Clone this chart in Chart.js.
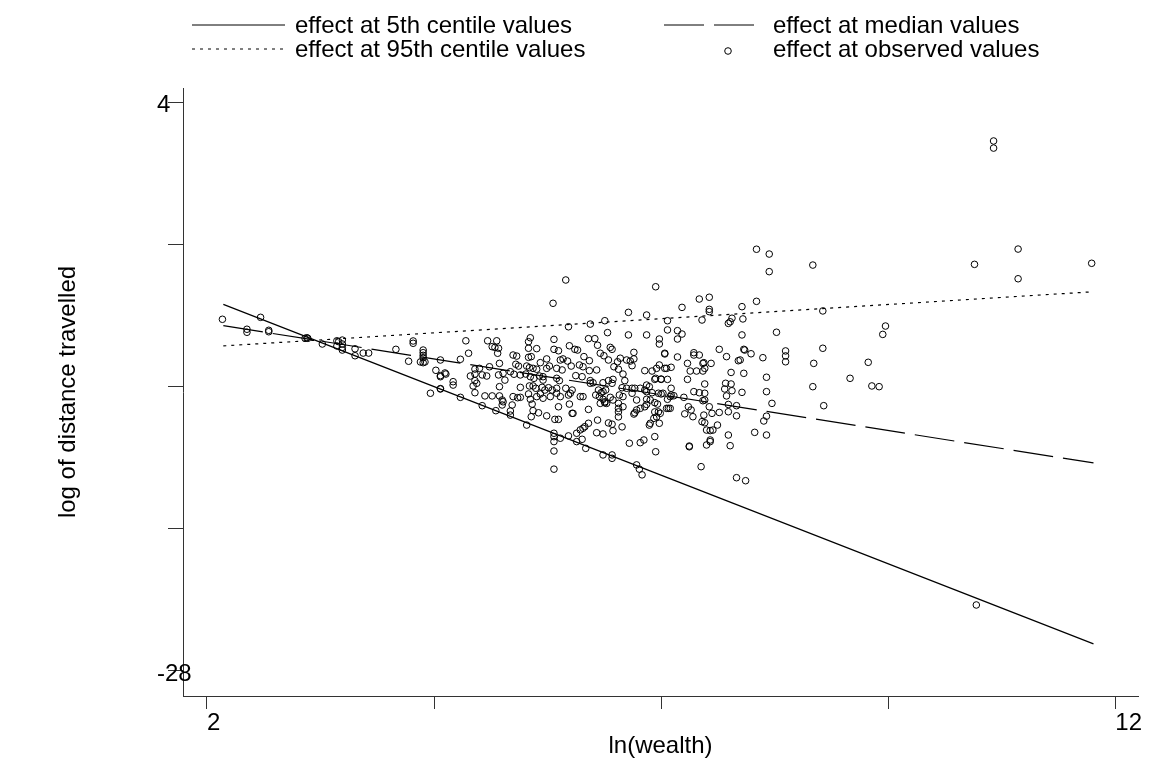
<!DOCTYPE html>
<html lang="en">

<head>
	<meta charset="UTF-8">
	<title>log of distance travelled vs ln(wealth)</title>
	<script src="https://cdn.jsdelivr.net/npm/chart.js"></script>
	<style>
		body { margin: 0; background: #fff; }
		#wrap { width: 1154px; height: 769px; position: relative; }
	</style>
</head>

<body>
	<div id="wrap"><canvas id="ctx"></canvas></div>

	<script>
		// series names
		const seriesNames = [
			'effect at 5th centile values',
			'effect at median values',
			'effect at 95th centile values',
			'effect at observed values'
		];

		// axis ticks (only the end ticks carry a label)
		const xTickValues = [2, 4.5, 7, 9.5, 12];
		const xTickLabels = ['2', '', '', '', '12'];
		const yTickValues = [-28, -20, -12, -4, 4];
		const yTickLabels = ['-28', '', '', '', '4'];

		// fitted lines, read at both ends
		const lineX = [2.18, 11.76];
		const centile5Y = [-7.38, -26.48];
		const medianY = [-8.58, -16.30];
		const centile95Y = [-9.72, -6.67];

		// observed values [ln(wealth), log distance]
		const observed = [
			[2.17, -8.22], [2.59, -8.11], [2.44, -8.78], [2.44, -8.95], [2.68, -8.84], [2.68, -8.92],
			[3.08, -9.29], [3.10, -9.26], [3.11, -9.29], [3.27, -9.61], [3.43, -9.43], [3.43, -9.72],
			[3.45, -9.48], [3.49, -9.39], [3.49, -9.61], [3.49, -9.80], [3.49, -9.95], [3.63, -9.88],
			[3.63, -10.27], [3.72, -10.12], [3.78, -10.12], [4.08, -9.91], [4.27, -9.44], [4.27, -9.57],
			[4.22, -10.58], [4.38, -9.95], [4.38, -10.10], [4.38, -10.25], [4.38, -10.38], [4.35, -10.62],
			[4.38, -10.66], [4.40, -10.62], [4.52, -11.09], [4.57, -11.39], [4.62, -11.24], [4.57, -12.12],
			[4.46, -12.38],
			[5.95, -6.01], [5.81, -7.32], [6.94, -6.39], [6.64, -7.83], [6.84, -7.98], [7.07, -8.30],
			[5.98, -8.64], [6.22, -8.49], [6.38, -8.30], [6.41, -8.97], [6.64, -9.10], [6.84, -9.10],
			[7.07, -8.82], [4.85, -9.43], [5.09, -9.43], [5.19, -9.43], [5.56, -9.26], [5.54, -9.48],
			[5.82, -9.35], [6.20, -9.31], [6.27, -9.31], [6.98, -9.33], [6.98, -9.61], [5.14, -9.76],
			[5.17, -9.80], [5.21, -9.85], [5.54, -9.85], [5.63, -9.87], [5.82, -9.91], [5.87, -9.99],
			[5.99, -9.71], [6.05, -9.91], [6.08, -9.95], [6.30, -9.68], [6.44, -9.80], [6.46, -9.91],
			[6.70, -10.08], [4.88, -10.13], [5.20, -10.13], [5.37, -10.23], [5.41, -10.29], [5.54, -10.36],
			[5.57, -10.32], [5.74, -10.45], [5.89, -10.51], [5.92, -10.45], [5.97, -10.57], [6.15, -10.32],
			[6.21, -10.55], [6.33, -10.13], [6.37, -10.27], [6.42, -10.51], [6.52, -10.61], [6.55, -10.41],
			[6.62, -10.51], [6.66, -10.57], [6.70, -10.45], [6.68, -10.83], [7.04, -10.17], [4.79, -10.47],
			[4.57, -10.51], [5.67, -10.66], [5.22, -10.70], [5.11, -10.89], [4.95, -11.02], [5.00, -10.98],
			[5.40, -10.75], [5.43, -10.85], [5.52, -10.85], [5.55, -10.94], [5.59, -10.98], [5.63, -11.03],
			[5.74, -10.98], [5.77, -10.85], [5.85, -10.98], [5.91, -11.07], [6.01, -10.85], [6.10, -10.79],
			[6.14, -10.89], [6.21, -11.11], [6.29, -11.07], [6.48, -10.89], [6.53, -11.03], [6.58, -11.30],
			[6.82, -11.11], [6.90, -11.13], [6.95, -10.98], [7.06, -10.98], [4.63, -11.30], [4.57, -11.45],
			[4.90, -11.41], [4.95, -11.30], [5.03, -11.35], [5.08, -11.41], [5.21, -11.35], [5.26, -11.26],
			[5.34, -11.17], [5.38, -11.31], [5.45, -11.35], [5.51, -11.30], [5.56, -11.45], [5.60, -11.54],
			[5.66, -11.41], [5.70, -11.45], [5.70, -11.64], [5.85, -11.54], [5.88, -11.67], [6.06, -11.39],
			[6.13, -11.45], [6.22, -11.67], [6.36, -11.79], [6.42, -11.67], [6.47, -11.60], [6.46, -11.82],
			[6.60, -11.67], [6.68, -12.10], [6.84, -11.92], [6.87, -12.01], [6.93, -11.60], [7.00, -11.60],
			[4.71, -11.73], [4.71, -11.92], [4.95, -11.67], [4.97, -11.82], [4.93, -11.97], [5.28, -11.64],
			[5.22, -12.01], [5.45, -12.05], [5.55, -11.97], [5.59, -11.97], [5.62, -12.10], [5.69, -12.05],
			[5.72, -12.20], [5.76, -12.07], [5.80, -12.20], [5.85, -12.10], [5.95, -12.10], [6.02, -12.20],
			[6.22, -11.82], [6.25, -11.79], [6.31, -12.20], [6.34, -12.35], [6.36, -12.29], [6.39, -12.20],
			[6.57, -12.07], [6.62, -12.10], [6.71, -12.10], [6.77, -12.10], [6.82, -12.20], [6.84, -12.29],
			[6.97, -12.38], [7.02, -12.38], [4.57, -12.14], [4.95, -12.35], [5.06, -12.53], [5.14, -12.53],
			[5.22, -12.53], [5.25, -12.76], [5.25, -13.04], [5.37, -12.57], [5.42, -12.63], [5.45, -12.61],
			[5.54, -12.42], [5.56, -12.72], [5.63, -12.57], [5.67, -12.42], [5.70, -12.66], [5.78, -12.57],
			[5.85, -12.38], [5.89, -12.57], [5.98, -12.48], [6.00, -12.38], [6.11, -12.57], [6.14, -12.57],
			[6.28, -12.48], [6.32, -12.57], [6.36, -12.72], [6.38, -12.86], [6.44, -12.61], [6.47, -12.76],
			[6.54, -12.48], [6.58, -12.57], [6.68, -12.38], [6.73, -12.76], [6.84, -12.72], [7.10, -12.57],
			[7.08, -13.23], [4.79, -12.61], [5.03, -13.08], [5.26, -12.86], [5.36, -13.04], [5.58, -12.99],
			[5.59, -13.36], [5.87, -13.14], [5.99, -12.99], [6.02, -13.51], [6.20, -13.29], [6.33, -12.95],
			[6.38, -12.92], [6.40, -12.95], [6.53, -12.95], [6.53, -13.23], [6.58, -13.14], [6.73, -13.32],
			[6.77, -13.23], [6.82, -13.14], [6.84, -13.01], [6.93, -13.43], [6.97, -13.43], [6.99, -13.51],
			[5.18, -13.36], [5.34, -13.38], [5.34, -13.61], [5.57, -13.70], [5.65, -13.48], [5.74, -13.65],
			[5.83, -13.85], [5.87, -13.85], [6.03, -13.51], [6.30, -13.89], [6.42, -14.05], [6.46, -14.12],
			[6.57, -14.27], [6.53, -13.43], [6.53, -13.71], [6.70, -13.55], [6.71, -13.48], [6.95, -13.71],
			[6.87, -14.17], [6.98, -14.07], [5.52, -14.17], [6.20, -14.07], [6.16, -14.26], [5.82, -14.63],
			[5.82, -15.10], [5.82, -14.82], [5.89, -14.91], [5.98, -14.78], [6.07, -14.63], [6.11, -14.44],
			[6.14, -14.35], [6.07, -15.10], [6.13, -14.97], [6.29, -14.60], [6.36, -14.67], [6.47, -14.49],
			[6.93, -14.82], [6.65, -15.19], [6.77, -15.16], [6.81, -15.01], [6.17, -15.48], [5.82, -15.63],
			[6.36, -15.85], [6.46, -15.85], [6.46, -16.04], [6.94, -15.67], [6.73, -16.41], [6.76, -16.65],
			[6.79, -16.97], [5.82, -16.65],
			[8.05, -4.28], [8.19, -4.55], [8.19, -5.54], [8.67, -5.17], [7.42, -7.08], [7.53, -6.98],
			[7.23, -7.55], [8.05, -7.21], [7.89, -7.51], [7.53, -7.66], [7.53, -7.79], [8.78, -7.75],
			[7.45, -8.26], [7.78, -8.16], [7.76, -8.36], [7.74, -8.45], [7.90, -8.20], [7.18, -8.86],
			[7.23, -9.05], [7.18, -9.33], [7.89, -9.10], [8.27, -8.95], [7.04, -10.13], [7.18, -10.34],
			[7.36, -10.10], [7.36, -10.23], [7.42, -10.23], [7.64, -9.91], [7.72, -10.32], [7.91, -9.91],
			[7.92, -9.95], [7.99, -10.16], [8.12, -10.38], [8.37, -10.00], [8.37, -10.28], [8.37, -10.61],
			[8.78, -9.85], [9.28, -10.64], [7.29, -10.70], [7.46, -10.70], [7.47, -10.66], [7.55, -10.70],
			[7.87, -10.51], [7.85, -10.55], [8.68, -10.70], [6.98, -10.79], [7.04, -10.98], [7.11, -10.92],
			[7.32, -11.13], [7.39, -11.13], [7.46, -11.13], [7.48, -10.98], [7.77, -11.21], [7.91, -11.26],
			[6.94, -11.54], [7.00, -11.58], [7.07, -11.60], [7.29, -11.60], [8.16, -11.48], [9.08, -11.54],
			[7.48, -11.86], [7.71, -11.82], [7.77, -11.86], [7.70, -12.14], [7.78, -12.24], [7.89, -12.33],
			[8.16, -12.29], [8.67, -12.01], [9.32, -11.97], [9.40, -12.01], [7.11, -12.10], [6.90, -12.35],
			[7.00, -12.42], [7.11, -12.48], [7.14, -12.52], [7.25, -12.61], [7.36, -12.29], [7.42, -12.35],
			[7.48, -12.38], [7.72, -12.53], [6.88, -12.76], [6.93, -12.91], [6.96, -12.99], [7.07, -12.72],
			[7.06, -13.23], [7.10, -13.23], [7.30, -13.14], [7.33, -13.32], [7.46, -12.80], [7.48, -12.76],
			[7.53, -13.14], [7.74, -13.01], [7.83, -13.08], [8.22, -12.95], [8.79, -13.08], [7.26, -13.54],
			[7.35, -13.70], [7.47, -13.61], [7.56, -13.51], [7.64, -13.46], [7.74, -13.42], [7.83, -13.65],
			[8.16, -13.67], [8.13, -13.94], [6.88, -14.07], [6.92, -13.79], [7.45, -13.98], [7.48, -14.04],
			[7.62, -14.17], [7.50, -14.45], [7.54, -14.48], [7.57, -14.45], [7.74, -14.73], [8.03, -14.58],
			[8.16, -14.73], [7.54, -15.01], [7.54, -15.10], [7.50, -15.29], [7.31, -15.35], [7.31, -15.39],
			[7.76, -15.33], [7.44, -16.51], [7.83, -17.13], [7.93, -17.30],
			[10.93, -4.27], [10.45, -5.13], [11.74, -5.07], [10.93, -5.94], [9.47, -8.60], [9.44, -9.07],
			[10.66, 1.81], [10.66, 1.41], [10.47, -24.29]
		];

		const FONT = '"Liberation Sans", Arial, sans-serif';

		function pairs(xs, ys) {
			return xs.map((x, i) => ({ x: x, y: ys[i] }));
		}

		// two-column legend on top, plus the axis titles
		const stataDecor = {
			id: 'stataDecor',
			afterDraw(chart) {
				const ctx = chart.ctx;
				const cols = [{ x0: 192, x1: 285, tx: 295, mx: 240 }, { x0: 664, x1: 755, tx: 773, mx: 728 }];
				const rows = [33, 57];
				ctx.save();
				chart.data.datasets.forEach((ds, i) => {
					const c = cols[i % 2];
					const base = rows[Math.floor(i / 2)];
					ctx.strokeStyle = '#000';
					ctx.lineWidth = 1;
					if (ds.showLine) {
						ctx.setLineDash(ds.borderDash || []);
						ctx.beginPath();
						ctx.moveTo(c.x0, base - 8);
						ctx.lineTo(c.x1, base - 8);
						ctx.stroke();
						ctx.setLineDash([]);
					} else {
						ctx.beginPath();
						ctx.arc(c.mx, base - 6, ds.pointRadius, 0, Math.PI * 2);
						ctx.stroke();
					}
					ctx.fillStyle = '#000';
					ctx.font = '24px ' + FONT;
					ctx.textAlign = 'left';
					ctx.textBaseline = 'alphabetic';
					ctx.fillText(ds.label, c.tx, base);
				});

				const area = chart.chartArea;
				ctx.font = '24px ' + FONT;
				ctx.textAlign = 'center';
				ctx.textBaseline = 'middle';
				ctx.fillText('ln(wealth)', (area.left + area.right) / 2, 746);
				ctx.translate(68, (area.top + area.bottom) / 2);
				ctx.rotate(-Math.PI / 2);
				ctx.fillText('log of distance travelled', 0, 0);
				ctx.restore();
			}
		};

		const ctx = document.getElementById('ctx');

		new Chart(ctx, {
			type: 'scatter',
			data: {
				datasets: [{
					label: seriesNames[0],
					data: pairs(lineX, centile5Y),
					showLine: true,
					borderColor: '#000',
					borderWidth: 1.2,
					pointRadius: 0,
					order: 1
				}, {
					label: seriesNames[1],
					data: pairs(lineX, medianY),
					showLine: true,
					borderColor: '#000',
					borderWidth: 1.2,
					borderDash: [40, 10],
					pointRadius: 0,
					order: 2
				}, {
					label: seriesNames[2],
					data: pairs(lineX, centile95Y),
					showLine: true,
					borderColor: '#000',
					borderWidth: 1.2,
					borderDash: [3, 5],
					pointRadius: 0,
					order: 3
				}, {
					label: seriesNames[3],
					data: observed.map(p => ({ x: p[0], y: p[1] })),
					showLine: false,
					borderColor: '#000',
					backgroundColor: 'rgba(0,0,0,0)',
					borderWidth: 1,
					pointRadius: 3.3,
					pointHoverRadius: 3.3,
					order: 4
				}]
			},
			options: {
				responsive: true,
				maintainAspectRatio: false,
				animation: false,
				events: [],
				layout: { padding: { left: 157, top: 88, right: 16, bottom: 0 } },
				plugins: {
					legend: { display: false },
					tooltip: { enabled: false }
				},
				scales: {
					x: {
						type: 'linear',
						min: 1.736,
						max: 12.25,
						afterBuildTicks: s => { s.ticks = xTickValues.map(v => ({ value: v })); },
						afterFit: s => { s.height = 73; s.paddingLeft = 0; s.paddingRight = 0; },
						grid: { drawOnChartArea: false, drawTicks: true, tickLength: 13, color: '#333', lineWidth: 1 },
						border: { display: true, color: '#333', width: 1 },
						ticks: {
							autoSkip: false,
							maxRotation: 0,
							align: 'start',
							padding: 0,
							color: '#000',
							font: { family: FONT, size: 24 },
							callback: (v, i) => xTickLabels[i]
						}
					},
					y: {
						type: 'linear',
						min: -29.41,
						max: 4.79,
						afterBuildTicks: s => { s.ticks = yTickValues.map(v => ({ value: v })); },
						afterFit: s => { s.width = 26; s.paddingTop = 0; s.paddingBottom = 0; },
						grid: { drawOnChartArea: false, drawTicks: true, tickLength: 15, color: '#333', lineWidth: 1 },
						border: { display: true, color: '#333', width: 1 },
						ticks: {
							autoSkip: false,
							mirror: true,
							padding: -26,
							labelOffset: 3,
							color: '#000',
							font: { family: FONT, size: 24 },
							callback: (v, i) => yTickLabels[i]
						}
					}
				}
			},
			plugins: [stataDecor]
		});
	</script>

</body>

</html>
